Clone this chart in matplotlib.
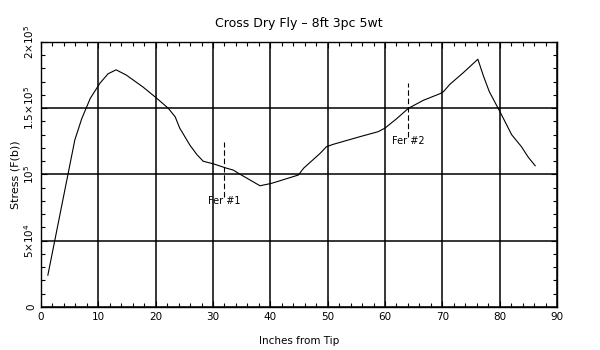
import matplotlib
matplotlib.use("Agg")
from matplotlib import pyplot as plt
from matplotlib.ticker import MultipleLocator

# stress curve
inches = [1.2, 5.9, 7.1, 8.6, 10.3, 11.7, 13.1, 14.9, 17.8, 20.2,
          22.2, 23.4, 24.2, 26.0, 27.2, 28.3, 30.1, 32.4, 33.5, 34.6, 38.2,
          40.2, 44.9, 45.8, 48.7, 49.8, 51.0, 55.6, 58.8, 60.0, 62.0, 64.1,
          66.7, 69.6, 70.2, 71.3, 73.7, 76.2, 77.2, 78.2, 80.1, 82.1, 83.8,
          85.0, 86.2]
stress = [24000, 126000, 142000, 157500, 169000, 176000,
          179000, 175000, 166000, 157500, 150000, 143600, 135000, 122000,
          115000, 110000, 108000, 104700, 103400, 100500, 91500, 93300,
          99600, 104700, 116000, 121000, 122800, 128500, 132300, 135000,
          142000, 150000, 156000, 161000, 162500, 168000, 177000, 187000,
          174000, 162500, 147000, 130000, 121000, 113000, 106600]

# ferrule markers: position, dashed line top/bottom, label
ferrules = [32, 64]
fer_top = [124500, 169000]
fer_bottom = [83000, 128500]
fer_labels = ['Fer #1', 'Fer #2']
fer_label_y = [80000, 125000]

xticks = [0, 10, 20, 30, 40, 50, 60, 70, 80, 90]
yticks = [0, 50000, 100000, 150000, 200000]
ytick_labels = ['0', r'$5{\times}10^4$', r'$10^5$', r'$1.5{\times}10^5$',
                r'$2{\times}10^5$']

plt.rcParams['font.family'] = 'DejaVu Sans'
plt.rcParams['mathtext.default'] = 'regular'

fig = plt.figure(figsize=(6, 3.5), dpi=100)
ax = fig.add_axes([0.0683, 0.1229, 0.8600, 0.7571])

ax.plot(inches, stress, color='black', linewidth=0.8)

for x, top, bot, lab, ly in zip(ferrules, fer_top, fer_bottom, fer_labels,
                                fer_label_y):
    ax.plot([x, x], [bot, top], color='black', linewidth=0.8,
            linestyle=(0, (5, 2.5)))
    ax.text(x, ly, lab, ha='center', va='center', fontsize=7)

ax.set_xlim(0, 90)
ax.set_ylim(0, 200000)
ax.set_xticks(xticks)
ax.set_yticks(yticks)
ax.set_yticklabels(ytick_labels, rotation=90, va='center')
ax.xaxis.set_minor_locator(MultipleLocator(2))
ax.yaxis.set_minor_locator(MultipleLocator(10000))
ax.tick_params(which='both', direction='in', top=True, right=True,
               labelsize=7.5, width=0.8)
ax.tick_params(which='major', length=4)
ax.tick_params(which='minor', length=3)
ax.grid(True, which='major', color='black', linewidth=1.1)
for s in ax.spines.values():
    s.set_linewidth(1.0)

ax.set_title('Cross Dry Fly \u2013 8ft 3pc 5wt', fontsize=9, pad=11)
ax.set_xlabel('Inches from Tip', fontsize=7.5, labelpad=10)
ax.set_ylabel('Stress (F(b))', fontsize=8, labelpad=1)

fig.savefig('out.png', dpi=100)
